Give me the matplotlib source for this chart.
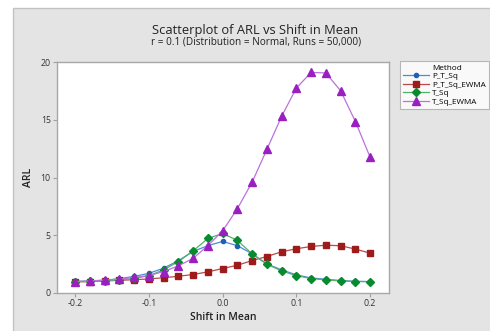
import matplotlib
matplotlib.use("Agg")
import matplotlib.pyplot as plt
from matplotlib.patches import Rectangle
from matplotlib.lines import Line2D

plt.rcParams["font.family"] = ["Open Sans", "DejaVu Sans"]

# --- data ---
shift = [-0.20, -0.18, -0.16, -0.14, -0.12, -0.10, -0.08, -0.06, -0.04, -0.02,
         0.00, 0.02, 0.04, 0.06, 0.08, 0.10, 0.12, 0.14, 0.16, 0.18, 0.20]

p_t_sq = [1.00, 1.04, 1.10, 1.24, 1.44, 1.70, 2.15, 2.80, 3.60, 4.10,
          4.46, 4.10, 3.39, 2.52, 2.00, 1.57, 1.30, 1.19, 1.08, 1.02, 0.99]
p_t_sq_ewma = [0.97, 0.98, 1.05, 1.10, 1.15, 1.22, 1.32, 1.45, 1.60, 1.83,
               2.12, 2.40, 2.81, 3.16, 3.57, 3.83, 4.03, 4.14, 4.09, 3.80, 3.45]
t_sq = [0.99, 1.00, 1.05, 1.12, 1.27, 1.50, 2.00, 2.72, 3.65, 4.72,
        5.16, 4.55, 3.39, 2.49, 1.91, 1.50, 1.25, 1.13, 1.04, 0.99, 0.98]
t_sq_ewma = [0.98, 1.04, 1.12, 1.19, 1.36, 1.50, 1.86, 2.35, 3.00, 4.10,
             5.38, 7.30, 9.60, 12.43, 15.30, 17.75, 19.10, 19.05, 17.50, 14.84, 11.74]

series = [
    ("P_T_Sq", p_t_sq, "o", 3, "#1f5fb4", "#4f8ad6"),
    ("P_T_Sq_EWMA", p_t_sq_ewma, "s", 4, "#9e1b1b", "#b84a4a"),
    ("T_Sq", t_sq, "D", 3.8, "#0a8a2e", "#4fb36a"),
    ("T_Sq_EWMA", t_sq_ewma, "^", 5.5, "#9a1fc0", "#bb72dc"),
]

fig = plt.figure(figsize=(4.9, 3.31), dpi=100)
fig.patch.set_facecolor("white")
fig.patches.append(Rectangle((13 / 490, -0.01), 1.0, 1 - 8 / 331 + 0.01,
                             transform=fig.transFigure, facecolor="#e4e4e4",
                             edgecolor="#c2c2c2", linewidth=1.0, zorder=-5))

ax = fig.add_axes([57 / 490, 38 / 331, 332 / 490, 231 / 331])
ax.set_facecolor("white")

handles = [Line2D([], [], linestyle="none", marker="none")]
labels = ["Method"]
for name, vals, mk, ms, mcol, lcol in series:
    ln, = ax.plot(shift, vals, color=lcol, linewidth=0.9, marker=mk, markersize=ms,
                  markerfacecolor=mcol, markeredgecolor=mcol, label=name)
    handles.append(ln)
    labels.append(name)

ax.set_xlim(-0.2245, 0.2255)
ax.set_ylim(0, 20)
ax.set_xticks([-0.2, -0.1, 0.0, 0.1, 0.2])
ax.set_xticklabels(["-0.2", "-0.1", "0.0", "0.1", "0.2"])
ax.set_yticks([0, 5, 10, 15, 20])
ax.tick_params(axis="both", labelsize=6.3, colors="#a0a0a0", labelcolor="#333333",
               length=3, width=0.8, pad=1.5)
for sp in ax.spines.values():
    sp.set_color("#a8a8a8")
    sp.set_linewidth(1.0)

ax.set_xlabel("Shift in Mean", fontsize=7.5, color="#222222", labelpad=3,
              fontweight="semibold")
ax.set_ylabel("ARL", fontsize=7.5, color="#222222", labelpad=5,
              fontweight="semibold")

fig.text(255 / 490, 1 - 34 / 331, "Scatterplot of ARL vs Shift in Mean",
         ha="center", va="baseline", fontsize=9.3, color="#222222")
fig.text(256 / 490, 1 - 45 / 331, "r = 0.1 (Distribution = Normal, Runs = 50,000)",
         ha="center", va="baseline", fontsize=7.2, color="#222222")

leg = fig.legend(handles, labels, loc="upper left",
                 bbox_to_anchor=(400 / 490, 1 - 61 / 331),
                 fontsize=5.9, frameon=True, fancybox=False, handlelength=3.2,
                 handletextpad=0.4, labelspacing=0.1, borderpad=0.35,
                 borderaxespad=0)
leg.get_frame().set_edgecolor("#a8a8a8")
leg.get_frame().set_linewidth(0.8)

fig.savefig("out.png", dpi=100, facecolor=fig.get_facecolor())
